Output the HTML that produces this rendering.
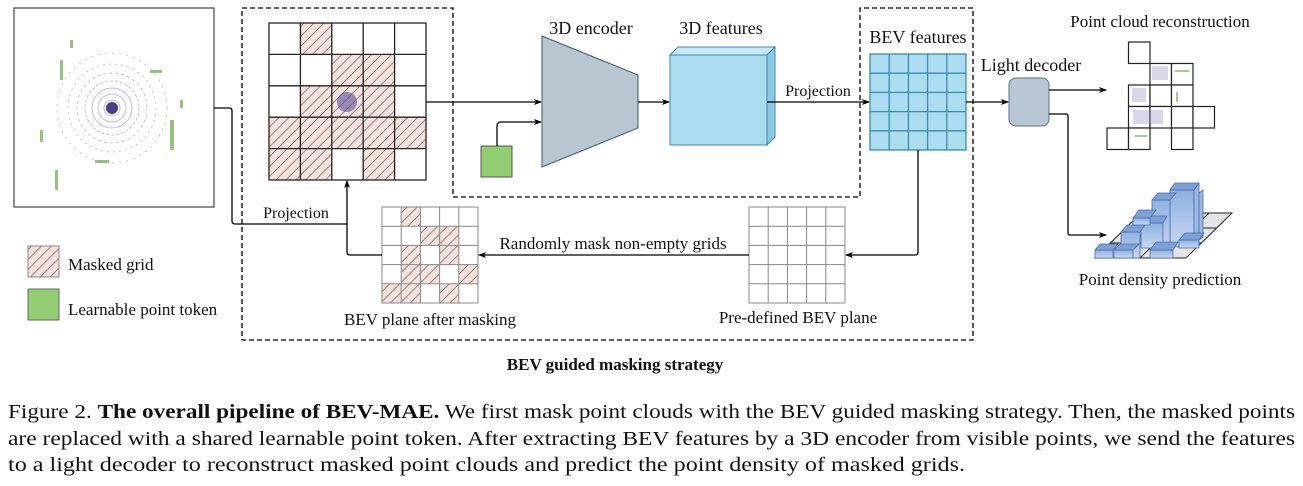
<!DOCTYPE html>
<html><head><meta charset="utf-8"><style>
html,body{margin:0;padding:0;background:#fff;width:1303px;height:486px;overflow:hidden}
svg{display:block}
</style></head><body>
<svg width="1303" height="486" viewBox="0 0 1303 486" xmlns="http://www.w3.org/2000/svg" font-family="'Liberation Serif','Times New Roman',Times,serif" fill="#111">
<defs>
<pattern id="h" patternUnits="userSpaceOnUse" width="7" height="7" patternTransform="rotate(45)">
<rect width="7" height="7" fill="#f6e2dc"/><line x1="0" y1="0" x2="0" y2="7" stroke="#555" stroke-width="1.3"/>
</pattern>
<marker id="a" markerWidth="8" markerHeight="8" refX="7" refY="4" orient="auto" markerUnits="userSpaceOnUse">
<path d="M0,1 L8,4 L0,7 L2,4z" fill="#000"/></marker>
<linearGradient id="bar" x1="0" x2="0" y1="0" y2="1"><stop offset="0" stop-color="#8fb0e0"/><stop offset="1" stop-color="#c7d8f2"/></linearGradient>
</defs>

<!-- point cloud image -->
<rect x="14" y="8" width="200" height="199" fill="#fff" stroke="#444" stroke-width="1.2"/>
<g fill="none" stroke="#8a7fb8" stroke-width="0.7" opacity="0.7">
<circle cx="112" cy="108" r="8"/><circle cx="112" cy="108" r="14"/><circle cx="112" cy="108" r="20"/>
<circle cx="112" cy="108" r="27" stroke-dasharray="3 2"/><circle cx="112" cy="108" r="35" stroke-dasharray="3 3"/>
<circle cx="112" cy="108" r="44" stroke-dasharray="2 4"/><circle cx="112" cy="108" r="55" stroke-dasharray="2 5"/>
</g>
<circle cx="112" cy="108" r="6" fill="#4b3f8a"/>
<g fill="#6aa84f" opacity="0.7">
<rect x="60" y="60" width="3" height="20"/><rect x="170" y="120" width="4" height="30"/><rect x="40" y="130" width="3" height="12"/>
<rect x="150" y="70" width="12" height="3"/><rect x="70" y="40" width="3" height="8"/><rect x="55" y="170" width="3" height="20"/>
<rect x="180" y="100" width="3" height="8"/><rect x="95" y="160" width="14" height="3"/>
</g>

<!-- outer dashed frame -->
<path d="M242,8 H453 V197 H860 V8 H973 V340 H242 Z" fill="none" stroke="#000" stroke-width="1.3" stroke-dasharray="5 3"/>

<!-- masked grid -->
<rect x="269" y="23" width="157" height="157" fill="#fff"/>
<g fill="url(#h)">
<rect x="300.4" y="23" width="31.4" height="31.4"/>
<rect x="331.8" y="54.4" width="62.8" height="31.4"/>
<rect x="300.4" y="85.8" width="94.2" height="31.4"/>
<rect x="269" y="117.2" width="125.6" height="31.4"/><rect x="394.6" y="117.2" width="31.4" height="31.4"/>
<rect x="269" y="148.6" width="62.8" height="31.4"/><rect x="363.2" y="148.6" width="31.4" height="31.4"/>
</g>
<circle cx="347" cy="102" r="10" fill="#5b4f9a" opacity="0.6"/>
<g stroke="#222" stroke-width="1.3" fill="none">
<rect x="269" y="23" width="157" height="157"/>
<path d="M300.4,23V180M331.8,23V180M363.2,23V180M394.6,23V180M269,54.4H426M269,85.8H426M269,117.2H426M269,148.6H426"/>
</g>
<line x1="426" y1="102" x2="541" y2="102" stroke="#000" stroke-width="1.3" marker-end="url(#a)"/>

<!-- green token -->
<rect x="481" y="146" width="31" height="31" fill="#93cd72" stroke="#555" stroke-width="1"/>
<path d="M497,146 V126 Q497,122 501,122 H541" fill="none" stroke="#000" stroke-width="1.3" marker-end="url(#a)"/>

<!-- encoder -->
<polygon points="542,36 638,75 638,128 542,167" fill="#b8c6d2" stroke="#3c5a74" stroke-width="1"/>
<text x="591" y="34" font-size="18" text-anchor="middle">3D encoder</text>
<line x1="638" y1="102" x2="669" y2="102" stroke="#000" stroke-width="1.3" marker-end="url(#a)"/>

<!-- 3D features cube -->
<polygon points="670,55 678,47 775,47 767,55" fill="#c8e8f4" stroke="#3a8cb0" stroke-width="1"/>
<polygon points="767,55 775,47 775,137 767,145" fill="#8ec9e2" stroke="#3a8cb0" stroke-width="1"/>
<rect x="670" y="55" width="97" height="90" fill="#aadcf0" stroke="#3a8cb0" stroke-width="1"/>
<text x="721" y="34" font-size="18" text-anchor="middle">3D features</text>
<text x="818" y="96" font-size="16" text-anchor="middle">Projection</text>
<line x1="767" y1="102" x2="869" y2="102" stroke="#000" stroke-width="1.3" marker-end="url(#a)"/>

<!-- BEV features -->
<text x="918" y="43" font-size="18" text-anchor="middle">BEV features</text>
<rect x="870" y="54" width="96" height="96" fill="#acdcef" stroke="#3a8cb0" stroke-width="1.3"/>
<path d="M889.2,54V150M908.4,54V150M927.6,54V150M946.8,54V150M870,73.2H966M870,92.4H966M870,111.6H966M870,130.8H966" stroke="#3a8cb0" stroke-width="1.3"/>
<line x1="966" y1="102" x2="1008" y2="102" stroke="#000" stroke-width="1.3" marker-end="url(#a)"/>

<!-- light decoder -->
<text x="1031" y="71" font-size="18" text-anchor="middle">Light decoder</text>
<rect x="1009" y="78" width="40" height="48" rx="7" fill="#b8c7d3" stroke="#5a7086" stroke-width="1"/>
<line x1="1049" y1="90" x2="1106" y2="90" stroke="#000" stroke-width="1.3" marker-end="url(#a)"/>
<path d="M1049,114 H1066 Q1068,114 1068,116 V233 Q1068,235 1070,235 H1106" fill="none" stroke="#000" stroke-width="1.3" marker-end="url(#a)"/>

<!-- point cloud reconstruction -->
<text x="1160" y="27" font-size="17" text-anchor="middle">Point cloud reconstruction</text>
<g fill="#fff" stroke="#222" stroke-width="1.2">
<rect x="1128.5" y="42" width="21.5" height="21.5"/>
<rect x="1150" y="63.5" width="21.5" height="21.5"/><rect x="1171.5" y="63.5" width="21.5" height="21.5"/>
<rect x="1128.5" y="85" width="21.5" height="21.5"/><rect x="1150" y="85" width="21.5" height="21.5"/><rect x="1171.5" y="85" width="21.5" height="21.5"/>
<rect x="1128.5" y="106.5" width="21.5" height="21.5"/><rect x="1150" y="106.5" width="21.5" height="21.5"/><rect x="1171.5" y="106.5" width="21.5" height="21.5"/><rect x="1193" y="106.5" width="21.5" height="21.5"/>
<rect x="1107" y="128" width="21.5" height="21.5"/><rect x="1128.5" y="128" width="21.5" height="21.5"/><rect x="1171.5" y="128" width="21.5" height="21.5"/>
</g>
<g fill="#9a90c4" opacity="0.35"><rect x="1152" y="66" width="16" height="14"/><rect x="1132" y="88" width="14" height="14"/><rect x="1133" y="110" width="30" height="14"/></g>
<g fill="#6aa84f" opacity="0.6"><rect x="1175" y="70" width="14" height="2"/><rect x="1135" y="135" width="12" height="2"/><rect x="1176" y="92" width="2" height="10"/></g>

<!-- density prediction -->
<polygon points="1095,258 1186,258 1232,213 1141,213" fill="#e6e6e6" stroke="#222" stroke-width="1"/>
<path d="M1110,243H1201M1125,228H1217M1118,258L1164,213M1140,258L1186,213M1163,258L1209,213" stroke="#222" stroke-width="1" fill="none"/>
<g stroke="#4a6fa8" stroke-width="0.8">
<polygon points="1170,190 1194,190 1194,247 1170,247" fill="url(#bar)"/>
<polygon points="1170,190 1175,183 1199,183 1194,190" fill="#7da1d6"/>
<polygon points="1194,190 1199,183 1199,240 1194,247" fill="#9bb7e2"/>
<polygon points="1152,200 1170,200 1170,248 1152,248" fill="url(#bar)"/>
<polygon points="1152,200 1158,193 1176,193 1170,200" fill="#7da1d6"/>
<polygon points="1199,193 1203,190 1203,237 1199,240" fill="#9bb7e2"/>
<polygon points="1141,223 1163,223 1163,248 1141,248" fill="url(#bar)"/>
<polygon points="1141,223 1147,216 1167,216 1163,223" fill="#7da1d6"/>
<polygon points="1121,232 1140,232 1140,258 1121,258" fill="url(#bar)"/>
<polygon points="1121,232 1127,225 1145,225 1140,232" fill="#7da1d6"/>
<polygon points="1133,218 1150,218 1150,225 1133,225" fill="url(#bar)"/>
<polygon points="1133,218 1139,210 1156,210 1150,218" fill="#7da1d6"/>
<polygon points="1095,250 1113,250 1113,258 1095,258" fill="url(#bar)"/>
<polygon points="1095,250 1100,244 1118,244 1113,250" fill="#7da1d6"/>
<polygon points="1114,250 1133,250 1133,258 1114,258" fill="url(#bar)"/>
<polygon points="1114,250 1120,244 1139,244 1133,250" fill="#7da1d6"/>
<polygon points="1150,250 1173,250 1173,258 1150,258" fill="url(#bar)"/>
<polygon points="1150,250 1156,242 1178,242 1173,250" fill="#7da1d6"/>
<polygon points="1179,240 1199,240 1199,248 1179,248" fill="url(#bar)"/>
<polygon points="1179,240 1185,233 1204,233 1199,240" fill="#7da1d6"/>
</g>
<text x="1160" y="285" font-size="17" text-anchor="middle">Point density prediction</text>

<!-- BEV plane after masking -->
<rect x="382" y="207" width="96" height="96" fill="#fff"/>
<g fill="url(#h)">
<rect x="401.2" y="207" width="19.2" height="19.2"/>
<rect x="420.4" y="226.2" width="38.4" height="19.2"/>
<rect x="401.2" y="245.4" width="19.2" height="19.2"/><rect x="439.6" y="245.4" width="19.2" height="19.2"/>
<rect x="401.2" y="264.6" width="38.4" height="19.2"/><rect x="458.8" y="264.6" width="19.2" height="19.2"/>
<rect x="382" y="283.8" width="38.4" height="19.2"/><rect x="439.6" y="283.8" width="19.2" height="19.2"/>
</g>
<g stroke="#888" stroke-width="1" fill="none">
<rect x="382" y="207" width="96" height="96"/>
<path d="M401.2,207V303M420.4,207V303M439.6,207V303M458.8,207V303M382,226.2H478M382,245.4H478M382,264.6H478M382,283.8H478"/>
</g>
<text x="430" y="325" font-size="17" text-anchor="middle">BEV plane after masking</text>

<!-- predefined plane -->
<g stroke="#888" stroke-width="1" fill="#fff">
<rect x="749" y="207" width="96" height="96"/>
<path d="M768.2,207V303M787.4,207V303M806.6,207V303M825.8,207V303M749,226.2H845M749,245.4H845M749,264.6H845M749,283.8H845" fill="none"/>
</g>
<text x="798" y="323" font-size="17" text-anchor="middle">Pre-defined BEV plane</text>

<!-- connectors bottom -->
<path d="M918,150 V252 Q918,255 915,255 H846" fill="none" stroke="#000" stroke-width="1.3" marker-end="url(#a)"/>
<line x1="749" y1="255" x2="479" y2="255" stroke="#000" stroke-width="1.3" marker-end="url(#a)"/>
<text x="613" y="249" font-size="17" text-anchor="middle">Randomly mask non-empty grids</text>
<path d="M382,255 H350 Q347,255 347,252 V181" fill="none" stroke="#000" stroke-width="1.3" marker-end="url(#a)"/>
<path d="M214,108 H229 Q232,108 232,111 V221 Q232,224 235,224 H347" fill="none" stroke="#000" stroke-width="1.3"/>
<text x="296" y="218" font-size="16" text-anchor="middle">Projection</text>

<!-- legend -->
<rect x="28" y="246" width="31" height="31" fill="url(#h)" stroke="#888" stroke-width="1"/>
<text x="68" y="270" font-size="17">Masked grid</text>
<rect x="28" y="289" width="31" height="31" fill="#93cd72" stroke="#666" stroke-width="1"/>
<text x="68" y="315" font-size="17">Learnable point token</text>

<text x="615" y="370" font-size="17" font-weight="bold" text-anchor="middle">BEV guided masking strategy</text>

<!-- caption -->
<text x="8" y="418" font-size="20" textLength="1287" lengthAdjust="spacingAndGlyphs">Figure 2. <tspan font-weight="bold">The overall pipeline of BEV-MAE.</tspan> We first mask point clouds with the BEV guided masking strategy. Then, the masked points</text>
<text x="8" y="445" font-size="20" textLength="1287" lengthAdjust="spacingAndGlyphs">are replaced with a shared learnable point token. After extracting BEV features by a 3D encoder from visible points, we send the features</text>
<text x="8" y="471" font-size="20" textLength="957" lengthAdjust="spacingAndGlyphs">to a light decoder to reconstruct masked point clouds and predict the point density of masked grids.</text>
</svg>
</body></html>
